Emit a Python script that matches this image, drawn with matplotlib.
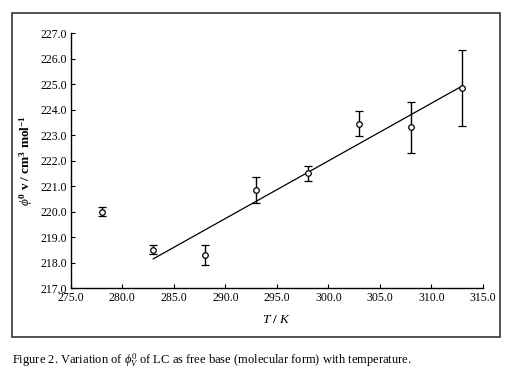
import matplotlib.pyplot as plt
import numpy as np
from matplotlib.patches import Rectangle

# data
temp = [278, 283, 288, 293, 298, 303, 308, 313]
phi_v = [220.0, 218.5, 218.3, 220.85, 221.5, 223.45, 223.3, 224.85]
err = [0.18, 0.18, 0.4, 0.5, 0.3, 0.5, 1.0, 1.5]

xticks = [275.0, 280.0, 285.0, 290.0, 295.0, 300.0, 305.0, 310.0, 315.0]
yticks = [217.0, 218.0, 219.0, 220.0, 221.0, 222.0, 223.0, 224.0, 225.0, 226.0, 227.0]

plt.rcParams['font.family'] = ['Liberation Serif', 'DejaVu Serif']
plt.rcParams['mathtext.fontset'] = 'custom'
plt.rcParams['mathtext.rm'] = 'Liberation Serif'
plt.rcParams['mathtext.it'] = 'Liberation Serif:italic'
plt.rcParams['mathtext.bf'] = 'Liberation Serif:bold'

fig = plt.figure(figsize=(5.21, 3.80), dpi=100)
ax = fig.add_axes([0.136, 0.242, 0.791, 0.671])

# outer frame round the chart
fig.patches.append(Rectangle((0.023, 0.113), 0.937, 0.853, transform=fig.transFigure,
                             fill=False, edgecolor='#333333', linewidth=1.2))

ax.errorbar(temp, phi_v, yerr=err, fmt='o', color='black', markerfacecolor='white',
            markersize=4, markeredgewidth=0.9, elinewidth=1.0, capsize=3, capthick=1.0)

# linear fit through the points from 283 K on
fit = np.polyfit(temp[1:], phi_v[1:], 1)
line_x = np.array([temp[1], temp[-1]])
ax.plot(line_x, np.polyval(fit, line_x), color='black', linewidth=0.9)

ax.set_xlim(275, 315)
ax.set_ylim(217, 227)
ax.set_xticks(xticks)
ax.set_yticks(yticks)
ax.set_xticklabels(['%.1f' % v for v in xticks])
ax.set_yticklabels(['%.1f' % v for v in yticks])
ax.tick_params(direction='in', length=3, width=0.8, labelsize=8.5, pad=3)
ax.spines['right'].set_color('none')
ax.spines['top'].set_color('none')
ax.spines['left'].set_linewidth(1.0)
ax.spines['bottom'].set_linewidth(1.0)

ax.set_xlabel(r'$\mathbf{\mathit{T}}$ / $\mathbf{\mathit{K}}$', fontsize=9.5, fontweight='bold', labelpad=7)
ax.set_ylabel(r'$\phi^{\mathbf{0}}$ v / cm$^{\mathbf{3}}$ mol$^{\mathbf{-1}}$', fontsize=9.5,
              fontweight='bold', labelpad=4)

fig.text(0.023, 0.028, r'Figure 2. Variation of $\phi_V^{0}$ of LC as free base (molecular form) with temperature.',
         fontsize=9, ha='left', va='bottom')

fig.savefig('out.png', dpi=100)
